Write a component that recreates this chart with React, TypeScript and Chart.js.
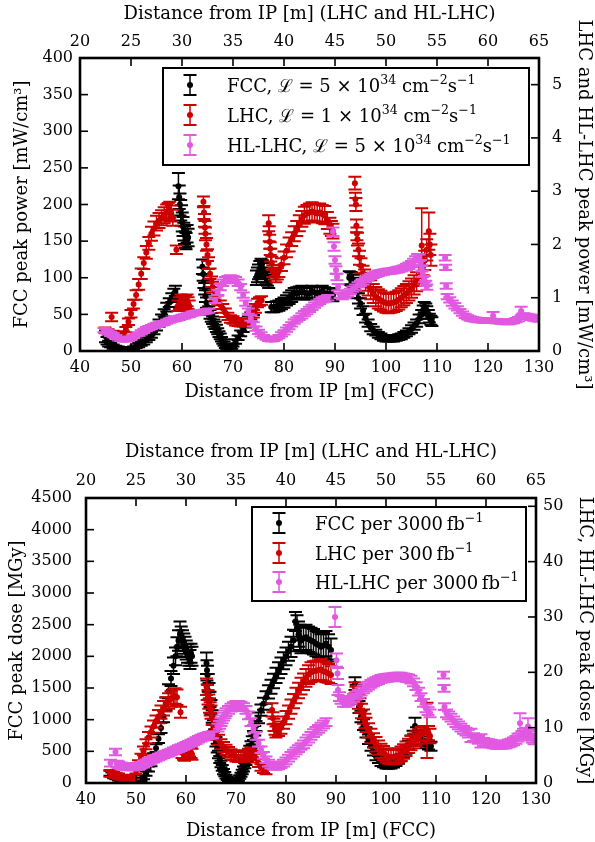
import { useEffect, useRef } from 'react';
import { Chart, registerables } from 'chart.js';

Chart.register(...registerables);

type Pt = [number, number, number]; // [distance, value, error]

const FONT = '"DejaVu Serif", serif';

// ---------- tick labels ----------
const FCC_DIST_TICKS = [40, 50, 60, 70, 80, 90, 100, 110, 120, 130];
const LHC_DIST_TICKS = [20, 25, 30, 35, 40, 45, 50, 55, 60, 65];
const POWER_TICKS = [0, 50, 100, 150, 200, 250, 300, 350, 400];
const LHC_POWER_TICKS = [0, 1, 2, 3, 4, 5];
const DOSE_TICKS = [0, 500, 1000, 1500, 2000, 2500, 3000, 3500, 4000, 4500];
const LHC_DOSE_TICKS = [0, 10, 20, 30, 40, 50];

// ---------- series colours (FCC, LHC, HL-LHC) ----------
const SERIES_COLORS = ['#000000', '#cc0000', '#e158e1'];

// ---------- top panel: peak power ----------
// FCC: [distance FCC m, mW/cm3, err]
const fccPower: Pt[] = [
  [45.0, 20, 8], [45.3, 14, 5], [45.6, 10, 4], [46, 8, 3], [46.5, 6, 3], [47, 5, 2], [47.5, 4, 2], [48, 3, 2],
  [48.5, 2, 2], [49, 2, 2], [49.5, 2, 2], [50, 3, 2], [50.5, 4, 2], [51, 6, 2], [51.5, 8, 3], [52, 10, 3],
  [52.5, 12, 3], [53, 15, 3], [53.5, 18, 3], [54, 22, 4], [54.5, 27, 4], [55, 32, 4], [55.5, 38, 5], [56, 45, 5],
  [56.5, 52, 5], [57, 60, 6], [57.5, 66, 6], [58, 73, 6], [58.4, 78, 7], [58.7, 82, 7],
  [59.3, 225, 18], [59.45, 210, 16], [59.6, 200, 15], [59.75, 192, 14], [59.9, 185, 14], [60.05, 176, 13],
  [60.2, 170, 13], [60.35, 163, 12], [60.5, 158, 12], [60.65, 152, 11], [60.8, 150, 11], [61.0, 160, 12], [61.2, 155, 12],
  [64.0, 115, 10], [64.15, 105, 9], [64.3, 95, 9], [64.45, 85, 8], [64.6, 75, 8], [64.8, 66, 7], [65, 60, 7],
  [65.25, 55, 6], [65.5, 50, 6], [65.75, 46, 6], [66, 42, 5], [66.25, 38, 5], [66.5, 35, 5], [66.75, 31, 5],
  [67, 27, 4], [67.25, 23, 4], [67.5, 20, 4], [67.75, 16, 3], [68, 13, 3], [68.25, 10, 3], [68.5, 7, 3],
  [68.75, 5, 2], [69, 3, 2], [69.25, 2, 2], [69.5, 3, 2], [69.75, 5, 2], [70, 8, 2], [70.5, 13, 3], [71, 18, 3],
  [71.5, 24, 4], [72, 30, 4], [72.5, 36, 4], [73, 42, 5], [73.5, 48, 5], [74, 55, 6],
  [74.6, 100, 10], [74.8, 104, 10], [75, 108, 10], [75.25, 112, 11], [75.5, 115, 11], [75.75, 113, 11],
  [76, 110, 10], [76.25, 104, 10], [76.5, 100, 9], [76.75, 98, 9], [77, 95, 9],
  [77.5, 60, 7], [78, 60, 7], [78.5, 61, 7], [79, 62, 7], [79.5, 64, 7], [80, 66, 7], [80.5, 69, 7], [81, 72, 8],
  [81.5, 75, 8], [82, 78, 8], [82.5, 79, 8], [83, 80, 8], [83.5, 81, 8], [84, 80, 8], [84.5, 78, 8], [85, 79, 8],
  [85.5, 81, 8], [86, 80, 8], [86.5, 79, 8], [87, 80, 8], [87.5, 81, 8], [88, 79, 8], [88.5, 78, 8], [89, 78, 8],
  [89.6, 76, 8],
  [92.8, 100, 9], [93.1, 99, 9], [93.3, 98, 9], [93.6, 95, 9], [93.8, 92, 8], [94, 87, 8], [94.3, 80, 8],
  [94.6, 72, 7], [95, 65, 7], [95.5, 55, 6], [96, 45, 6], [96.5, 38, 5], [97, 32, 5], [97.5, 28, 5], [98, 25, 4],
  [98.5, 22, 4], [99, 20, 4], [99.5, 18, 4], [100, 17, 4], [100.5, 17, 4], [101, 17, 4], [101.5, 17, 4],
  [102, 18, 4], [102.5, 19, 4], [103, 20, 4], [103.5, 22, 4], [104, 24, 4], [104.5, 27, 4], [105, 30, 5],
  [105.5, 34, 5], [106, 38, 5], [106.5, 44, 6], [107, 50, 6], [107.3, 56, 6], [107.5, 60, 7], [107.8, 58, 7],
  [108, 55, 6], [108.3, 50, 6], [108.5, 45, 6], [108.8, 42, 6], [109, 40, 6],
];

// LHC: [distance LHC m, mW/cm3, err]
const lhcPower: Pt[] = [
  [22.45, 0.39, 0.05], [22.75, 0.36, 0.05], [23.1, 0.64, 0.08], [23.25, 0.33, 0.05], [23.5, 0.3, 0.05],
  [23.75, 0.28, 0.05], [24, 0.28, 0.05], [24.25, 0.32, 0.05], [24.5, 0.4, 0.05], [24.75, 0.55, 0.06],
  [25, 0.7, 0.07], [25.25, 0.88, 0.08], [25.5, 1.05, 0.09], [25.75, 1.25, 0.1], [26, 1.45, 0.1],
  [26.25, 1.65, 0.11], [26.5, 1.85, 0.12], [26.75, 2.02, 0.12], [27, 2.2, 0.13], [27.25, 2.3, 0.13],
  [27.5, 2.4, 0.14], [27.75, 2.45, 0.14], [28, 2.5, 0.14], [28.25, 2.55, 0.15], [28.5, 2.6, 0.15],
  [28.65, 2.63, 0.15], [28.8, 2.65, 0.15], [28.95, 2.58, 0.15], [29.1, 2.5, 0.15], [29.45, 1.9, 0.08],
  [29.6, 0.85, 0.1], [29.75, 0.9, 0.11], [29.9, 0.95, 0.11], [30.05, 0.92, 0.11], [30.2, 0.9, 0.11],
  [30.35, 0.93, 0.11], [30.5, 0.95, 0.11], [30.6, 0.9, 0.11], [30.7, 0.85, 0.1],
  [32.1, 2.8, 0.1], [32.15, 2.6, 0.12], [32.2, 2.45, 0.12], [32.25, 2.32, 0.12], [32.3, 2.2, 0.12],
  [32.4, 2.0, 0.12], [32.5, 1.8, 0.11], [32.6, 1.65, 0.11], [32.75, 1.45, 0.1], [32.9, 1.3, 0.1],
  [33, 1.2, 0.1], [33.25, 1.05, 0.1], [33.5, 0.95, 0.09], [33.75, 0.87, 0.08], [34, 0.8, 0.08],
  [34.25, 0.72, 0.08], [34.5, 0.65, 0.07], [34.75, 0.6, 0.07], [35, 0.58, 0.07], [35.25, 0.55, 0.07],
  [35.5, 0.53, 0.06], [35.75, 0.52, 0.06], [36, 0.52, 0.06], [36.25, 0.53, 0.06], [36.5, 0.55, 0.06],
  [36.75, 0.62, 0.07], [37, 0.7, 0.07], [37.2, 0.8, 0.08], [37.4, 0.9, 0.08], [37.6, 0.93, 0.08], [37.8, 0.95, 0.08],
  [38.5, 2.4, 0.15], [38.55, 2.2, 0.14], [38.6, 2.05, 0.13], [38.65, 1.92, 0.12], [38.7, 1.8, 0.12],
  [38.8, 1.65, 0.12], [38.9, 1.5, 0.11], [39.05, 1.45, 0.11], [39.2, 1.4, 0.11], [39.35, 1.45, 0.11],
  [39.5, 1.5, 0.11], [39.75, 1.62, 0.12], [40, 1.75, 0.12], [40.25, 1.88, 0.12], [40.5, 2.0, 0.13],
  [40.75, 2.1, 0.13], [41, 2.2, 0.14], [41.25, 2.3, 0.14], [41.5, 2.4, 0.15], [41.75, 2.48, 0.15],
  [42, 2.55, 0.16], [42.25, 2.58, 0.16], [42.5, 2.6, 0.17], [42.75, 2.62, 0.17], [43, 2.6, 0.17],
  [43.25, 2.58, 0.17], [43.5, 2.6, 0.17], [43.75, 2.57, 0.17], [44, 2.55, 0.17], [44.25, 2.45, 0.16],
  [44.5, 2.35, 0.15], [44.65, 2.3, 0.14], [44.8, 2.25, 0.14],
  [46.95, 3.15, 0.12], [47.0, 2.85, 0.12], [47.05, 2.75, 0.12], [47.1, 2.35, 0.12], [47.15, 2.2, 0.12],
  [47.2, 2.1, 0.12], [47.3, 1.9, 0.12], [47.4, 1.75, 0.13], [47.55, 1.6, 0.14], [47.75, 1.45, 0.15],
  [47.9, 1.37, 0.16], [48, 1.3, 0.17], [48.25, 1.22, 0.18], [48.5, 1.15, 0.18], [48.75, 1.08, 0.18], [49, 1.02, 0.18],
  [49.25, 0.98, 0.18], [49.5, 0.95, 0.18], [49.75, 0.92, 0.18], [50, 0.9, 0.18], [50.25, 0.89, 0.18], [50.5, 0.9, 0.18],
  [50.75, 0.91, 0.18], [51, 0.93, 0.18], [51.25, 0.96, 0.18], [51.5, 1.0, 0.18], [51.75, 1.04, 0.18], [52, 1.08, 0.18],
  [52.25, 1.13, 0.18], [52.5, 1.18, 0.18], [52.75, 1.24, 0.18], [53, 1.3, 0.18], [53.25, 1.4, 0.18],
  [53.5, 1.98, 0.7], [53.65, 1.6, 0.18], [53.8, 1.7, 0.18], [54.0, 1.9, 0.2], [54.2, 2.25, 0.35],
  [54.3, 2.0, 0.2], [54.4, 1.8, 0.2],
];

// HL-LHC: [distance LHC m, mW/cm3, err]
const hlPower: Pt[] = [
  [22.35, 0.39, 0.04], [22.55, 0.37, 0.04], [22.75, 0.35, 0.04], [23, 0.32, 0.04], [23.25, 0.3, 0.04],
  [23.5, 0.27, 0.03], [23.75, 0.24, 0.03], [24, 0.22, 0.03], [24.25, 0.21, 0.03], [24.5, 0.21, 0.03],
  [24.75, 0.22, 0.03], [25, 0.24, 0.03], [25.25, 0.27, 0.03], [25.5, 0.3, 0.03], [25.75, 0.32, 0.03],
  [26, 0.35, 0.04], [26.25, 0.38, 0.04], [26.5, 0.41, 0.04], [26.75, 0.43, 0.04], [27, 0.45, 0.04],
  [27.25, 0.47, 0.04], [27.5, 0.49, 0.04], [27.75, 0.5, 0.04], [28, 0.52, 0.04], [28.25, 0.53, 0.04],
  [28.5, 0.55, 0.04], [28.75, 0.57, 0.04], [29, 0.59, 0.04], [29.25, 0.6, 0.04], [29.5, 0.61, 0.04],
  [29.75, 0.62, 0.04], [30, 0.64, 0.04], [30.25, 0.65, 0.04], [30.5, 0.67, 0.04], [30.75, 0.68, 0.04],
  [31, 0.7, 0.04], [31.25, 0.71, 0.04], [31.5, 0.72, 0.04], [31.75, 0.72, 0.04], [32, 0.73, 0.04],
  [32.25, 0.74, 0.04], [32.45, 0.75, 0.04], [32.65, 0.76, 0.04],
  [33.25, 0.95, 0.05], [33.5, 1.1, 0.05], [33.75, 1.2, 0.06], [34, 1.28, 0.06], [34.25, 1.33, 0.06],
  [34.5, 1.35, 0.06], [34.75, 1.36, 0.06], [35, 1.35, 0.06], [35.25, 1.33, 0.06], [35.5, 1.28, 0.06],
  [35.75, 1.2, 0.06], [36, 1.05, 0.05], [36.25, 0.9, 0.05], [36.5, 0.75, 0.05], [36.75, 0.62, 0.05],
  [37, 0.5, 0.04], [37.25, 0.42, 0.04], [37.5, 0.36, 0.04], [37.75, 0.31, 0.04], [38, 0.27, 0.03],
  [38.25, 0.24, 0.03], [38.5, 0.22, 0.03], [38.75, 0.21, 0.03], [39, 0.22, 0.03], [39.25, 0.24, 0.03],
  [39.5, 0.27, 0.03], [39.75, 0.31, 0.04], [40, 0.35, 0.04], [40.25, 0.4, 0.04], [40.5, 0.45, 0.04],
  [40.75, 0.5, 0.04], [41, 0.55, 0.04], [41.25, 0.59, 0.04], [41.5, 0.62, 0.04], [41.75, 0.66, 0.05],
  [42, 0.7, 0.05], [42.25, 0.74, 0.05], [42.5, 0.78, 0.05], [42.75, 0.82, 0.05], [43, 0.86, 0.05],
  [43.25, 0.9, 0.05], [43.5, 0.93, 0.05], [43.75, 0.96, 0.05], [44, 0.98, 0.05], [44.3, 1.0, 0.05],
  [44.8, 2.24, 0.08], [44.9, 1.96, 0.08], [45, 1.71, 0.07], [45.1, 1.52, 0.07], [45.2, 1.39, 0.06],
  [45.3, 1.2, 0.06], [45.5, 1.05, 0.05], [45.75, 1.02, 0.05], [46, 1.05, 0.05], [46.25, 1.08, 0.05],
  [46.5, 1.12, 0.05], [46.75, 1.16, 0.05], [47, 1.2, 0.05], [47.25, 1.24, 0.05], [47.5, 1.27, 0.05],
  [47.75, 1.3, 0.05], [48, 1.34, 0.05], [48.25, 1.37, 0.05], [48.5, 1.4, 0.05], [48.75, 1.42, 0.05],
  [49, 1.44, 0.05], [49.25, 1.46, 0.05], [49.5, 1.47, 0.05], [49.75, 1.48, 0.05], [50, 1.49, 0.05],
  [50.25, 1.5, 0.05], [50.5, 1.5, 0.05], [50.75, 1.51, 0.05], [51, 1.52, 0.05], [51.25, 1.53, 0.05],
  [51.5, 1.54, 0.05], [51.75, 1.56, 0.05], [52, 1.58, 0.06], [52.25, 1.6, 0.06], [52.5, 1.63, 0.06],
  [52.7, 1.67, 0.06], [52.9, 1.72, 0.06], [53.1, 1.76, 0.06], [53.25, 1.75, 0.06], [53.4, 1.65, 0.06],
  [53.5, 1.55, 0.06], [53.6, 1.45, 0.06], [53.75, 1.35, 0.06], [53.9, 1.27, 0.05], [54, 1.2, 0.05],
  [55.8, 1.75, 0.05], [55.85, 1.57, 0.05], [55.9, 1.22, 0.05], [56, 1.02, 0.05], [56.25, 0.96, 0.05],
  [56.5, 0.9, 0.05], [56.75, 0.85, 0.05], [57, 0.8, 0.04], [57.25, 0.75, 0.04], [57.5, 0.7, 0.04],
  [57.75, 0.66, 0.04], [58, 0.63, 0.04], [58.25, 0.61, 0.04], [58.5, 0.6, 0.04], [58.75, 0.59, 0.04],
  [59, 0.58, 0.04], [59.25, 0.58, 0.04], [59.5, 0.57, 0.04], [59.75, 0.57, 0.04], [60, 0.57, 0.04],
  [60.25, 0.57, 0.04], [60.5, 0.66, 0.07], [60.75, 0.56, 0.04], [61, 0.56, 0.04], [61.25, 0.55, 0.04],
  [61.5, 0.55, 0.04], [61.75, 0.54, 0.04], [62, 0.54, 0.04], [62.25, 0.55, 0.04], [62.5, 0.56, 0.04],
  [62.75, 0.58, 0.04], [63, 0.6, 0.04], [63.25, 0.75, 0.08], [63.4, 0.65, 0.05], [63.5, 0.66, 0.05],
  [63.75, 0.65, 0.05], [64, 0.64, 0.05], [64.25, 0.63, 0.05], [64.5, 0.62, 0.05], [64.75, 0.61, 0.05],
  [65, 0.6, 0.05],
];

// ---------- bottom panel: peak dose ----------
// FCC: [distance FCC m, MGy, err]
const fccDose: Pt[] = [
  [44.8, 153, 40], [45.2, 130, 35], [45.5, 110, 35], [46, 90, 30], [46.5, 70, 30], [47, 55, 25], [47.5, 40, 25],
  [48, 30, 20], [48.5, 20, 20], [49, 15, 15], [49.5, 15, 15], [50, 20, 15], [50.5, 30, 20], [51, 55, 25],
  [51.5, 90, 30], [52, 150, 35], [52.5, 220, 40], [53, 310, 45], [53.5, 420, 50], [54, 550, 60], [54.5, 700, 70],
  [55, 870, 80], [55.5, 1050, 90], [56, 1250, 100], [56.5, 1450, 110], [57, 1650, 120], [57.5, 1850, 130],
  [57.9, 2000, 140], [58.2, 2150, 150], [58.5, 2250, 160], [58.8, 2350, 200], [59.05, 2300, 170],
  [59.3, 2250, 160], [59.55, 2200, 160], [59.8, 2150, 160], [60.05, 2100, 150], [60.3, 2050, 150],
  [60.55, 2000, 150], [60.8, 1950, 150], [61.0, 2050, 150], [61.2, 2000, 150],
  [64.1, 1890, 170], [64.2, 1780, 160], [64.3, 1700, 150], [64.45, 1580, 140], [64.6, 1450, 130],
  [64.8, 1320, 120], [65, 1200, 110], [65.25, 1050, 100], [65.5, 900, 90], [65.75, 770, 80], [66, 650, 75],
  [66.25, 550, 70], [66.5, 450, 60], [66.75, 370, 55], [67, 300, 50], [67.25, 240, 45], [67.5, 180, 40],
  [67.75, 140, 35], [68, 100, 30], [68.25, 75, 28], [68.5, 50, 25], [68.75, 35, 22], [69, 20, 20],
  [69.25, 12, 15], [69.5, 10, 15], [69.75, 14, 15], [70, 20, 20], [70.25, 38, 22], [70.5, 60, 25],
  [70.75, 95, 28], [71, 130, 30], [71.25, 175, 35], [71.5, 220, 40], [71.75, 275, 42], [72, 330, 45],
  [72.25, 395, 50], [72.5, 460, 55], [72.75, 530, 58], [73, 600, 60], [73.25, 675, 65], [73.5, 750, 70],
  [73.75, 825, 75], [74, 900, 80], [74.5, 1030, 85], [75, 1150, 90], [75.5, 1250, 95], [76, 1350, 100],
  [76.5, 1440, 105], [77, 1520, 110], [77.5, 1610, 115], [78, 1700, 120], [78.5, 1780, 125], [79, 1850, 130],
  [79.5, 1930, 135], [80, 2000, 140], [80.5, 2080, 150], [81, 2150, 160], [81.5, 2250, 170], [81.9, 2550, 150],
  [82.2, 2450, 200], [82.5, 2350, 200], [82.75, 2300, 200], [83, 2250, 200], [83.5, 2280, 200],
  [84, 2300, 200], [84.5, 2270, 200], [85, 2250, 200], [85.5, 2230, 200], [86, 2200, 200], [86.5, 2180, 200],
  [87, 2150, 200], [87.5, 2170, 200], [88, 2200, 200], [88.5, 2150, 200], [89, 2100, 180],
  [93.8, 1570, 100], [94.05, 1450, 100], [94.3, 1350, 100], [94.6, 1200, 95], [95, 1050, 90], [95.5, 920, 85],
  [96, 800, 80], [96.5, 690, 75], [97, 580, 70], [97.5, 500, 65], [98, 420, 60], [98.5, 370, 55], [99, 320, 50],
  [99.5, 300, 50], [100, 280, 50], [100.5, 275, 50], [101, 280, 50], [101.5, 295, 50], [102, 320, 50],
  [102.5, 355, 52], [103, 400, 55], [103.5, 455, 58], [104, 520, 60], [104.5, 600, 65], [105, 680, 70],
  [105.4, 750, 75], [105.8, 900, 130], [106.1, 800, 80], [106.5, 750, 80], [107, 700, 80], [107.5, 660, 75],
  [108, 620, 70], [108.5, 600, 70], [109, 580, 70],
];

// LHC: [distance LHC m, MGy, err]
const lhcDose: Pt[] = [
  [22.4, 1.75, 0.6], [22.6, 1.6, 0.5], [22.75, 1.5, 0.5], [23, 1.35, 0.5], [23.25, 1.2, 0.5], [23.5, 1.05, 0.45],
  [23.75, 0.9, 0.4], [24, 0.8, 0.4], [24.25, 0.8, 0.4], [24.5, 0.9, 0.4], [24.75, 1.1, 0.4], [25, 2.2, 0.5],
  [25.25, 3.5, 0.6], [25.5, 4.6, 0.7], [25.75, 5.8, 0.8], [26, 7.0, 0.9], [26.25, 8.2, 1.0], [26.5, 9.2, 1.0],
  [26.75, 10.2, 1.1], [27, 11.1, 1.1], [27.25, 12.0, 1.2], [27.5, 12.8, 1.2], [27.75, 13.5, 1.3],
  [28, 14.2, 1.3], [28.25, 14.8, 1.4], [28.5, 15.2, 1.4], [28.75, 15.6, 1.4], [28.9, 15.7, 1.4],
  [29.1, 15.5, 1.4], [29.45, 12.8, 1.0], [29.6, 5.5, 1.0], [29.75, 5.2, 1.0], [29.85, 5.0, 1.0], [30, 5.3, 1.0],
  [30.1, 5.5, 1.0], [30.25, 5.7, 1.0], [30.35, 5.8, 1.0], [30.5, 5.5, 1.0], [30.6, 5.2, 1.0],
  [32.05, 17.4, 1.5], [32.12, 16.4, 1.4], [32.2, 15.5, 1.3], [32.28, 14.7, 1.3], [32.35, 14.0, 1.3],
  [32.42, 13.4, 1.2], [32.5, 12.8, 1.2], [32.62, 11.6, 1.1], [32.75, 10.5, 1.1], [32.87, 9.6, 1.0],
  [33, 8.8, 1.0], [33.25, 7.8, 0.9], [33.5, 7.0, 0.9], [33.75, 6.5, 0.9], [34, 6.0, 0.9], [34.25, 5.6, 0.9],
  [34.5, 5.2, 0.9], [34.75, 5.0, 0.9], [35, 4.8, 0.9], [35.25, 4.7, 0.9], [35.5, 4.7, 0.9], [35.75, 4.8, 0.9],
  [36, 5.0, 0.9], [36.25, 5.3, 0.9], [36.5, 5.5, 0.9], [36.75, 5.0, 0.8], [37, 4.5, 0.8], [37.25, 3.6, 0.7],
  [37.5, 2.8, 0.6], [37.75, 2.4, 0.6], [38, 2.2, 0.6],
  [38.6, 13.2, 1.2], [38.7, 11.7, 1.1], [38.8, 10.5, 1.1], [38.9, 9.7, 1.0], [39, 9.2, 1.0], [39.25, 9.5, 1.0],
  [39.5, 10.0, 1.1], [39.75, 10.9, 1.1], [40, 11.8, 1.2], [40.25, 12.8, 1.2], [40.5, 13.8, 1.3],
  [40.75, 14.8, 1.3], [41, 15.8, 1.4], [41.25, 16.7, 1.4], [41.5, 17.5, 1.5], [41.75, 18.3, 1.5],
  [42, 19.0, 1.6], [42.25, 19.6, 1.7], [42.5, 20.0, 1.8], [42.75, 20.2, 1.8], [43, 20.3, 1.8],
  [43.25, 20.4, 1.8], [43.5, 20.5, 1.9], [43.75, 20.2, 1.8], [44, 20.0, 1.8], [44.25, 19.8, 1.7], [44.5, 19.5, 1.6],
  [46.9, 17.2, 1.0], [47, 16.3, 1.1], [47.1, 15.5, 1.2], [47.25, 14.7, 1.3], [47.4, 14.0, 1.3], [47.55, 13.0, 1.3],
  [47.75, 12.0, 1.3], [47.9, 11.2, 1.3], [48, 10.5, 1.3], [48.25, 9.5, 1.3], [48.5, 8.5, 1.3], [48.75, 7.7, 1.3],
  [49, 7.0, 1.3], [49.25, 6.4, 1.3], [49.5, 5.8, 1.3], [49.75, 5.4, 1.3], [50, 5.0, 1.3], [50.25, 4.8, 1.3],
  [50.5, 4.7, 1.3], [50.75, 4.7, 1.3], [51, 4.8, 1.3], [51.25, 5.0, 1.3], [51.5, 5.3, 1.3], [51.75, 5.7, 1.3],
  [52, 6.2, 1.3], [52.25, 6.7, 1.3], [52.5, 7.2, 1.3], [52.75, 7.6, 1.3], [53, 8.0, 1.3], [53.25, 8.4, 1.3],
  [53.5, 8.8, 1.3], [53.75, 9.0, 1.3], [54.1, 9.5, 5.0], [54.25, 9.0, 1.3], [54.4, 8.5, 1.3],
];

// HL-LHC: [distance LHC m, MGy, err]
const hlDose: Pt[] = [
  [22.45, 3.6, 0.6], [22.95, 5.6, 0.6], [23.1, 3.4, 0.6], [23.25, 3.3, 0.6], [23.5, 3.1, 0.6], [23.75, 3.0, 0.6],
  [24, 2.95, 0.6], [24.25, 2.9, 0.6], [24.5, 2.9, 0.6], [24.75, 2.9, 0.6], [25, 2.95, 0.6], [25.25, 3.0, 0.6],
  [25.5, 3.2, 0.6], [25.75, 3.4, 0.6], [26, 3.65, 0.6], [26.25, 3.9, 0.6], [26.5, 4.1, 0.6], [26.75, 4.3, 0.6],
  [27, 4.5, 0.6], [27.25, 4.7, 0.6], [27.5, 4.9, 0.6], [27.75, 5.1, 0.6], [28, 5.25, 0.6], [28.25, 5.4, 0.6],
  [28.5, 5.6, 0.6], [28.75, 5.8, 0.6], [29, 6.0, 0.6], [29.25, 6.2, 0.6], [29.5, 6.4, 0.6], [29.75, 6.6, 0.6],
  [30, 6.8, 0.6], [30.25, 7.0, 0.6], [30.5, 7.2, 0.6], [30.75, 7.4, 0.6], [31, 7.65, 0.6], [31.25, 7.9, 0.6],
  [31.5, 8.1, 0.6], [31.75, 8.3, 0.6], [32, 8.45, 0.6], [32.25, 8.6, 0.6], [32.45, 8.65, 0.6], [32.65, 8.7, 0.6],
  [33.2, 10.0, 0.7], [33.35, 10.5, 0.7], [33.5, 11.0, 0.7], [33.6, 11.5, 0.7], [33.75, 12.0, 0.7],
  [33.9, 12.4, 0.7], [34, 12.8, 0.7], [34.25, 13.2, 0.7], [34.5, 13.6, 0.7], [34.75, 13.9, 0.7], [35, 14.1, 0.7],
  [35.25, 14.1, 0.7], [35.5, 14.0, 0.7], [35.75, 13.7, 0.7], [36, 13.2, 0.7], [36.25, 12.2, 0.7],
  [36.5, 11.0, 0.7], [36.75, 9.8, 0.7], [37, 8.5, 0.7], [37.25, 7.2, 0.6], [37.5, 6.0, 0.6], [37.75, 5.0, 0.6],
  [38, 4.2, 0.6], [38.25, 3.6, 0.6], [38.5, 3.2, 0.6], [38.75, 3.05, 0.6], [39, 3.0, 0.6], [39.25, 3.1, 0.6],
  [39.5, 3.3, 0.6], [39.75, 3.6, 0.6], [40, 4.0, 0.6], [40.25, 4.5, 0.6], [40.5, 5.0, 0.6], [40.75, 5.4, 0.6],
  [41, 5.8, 0.6], [41.25, 6.2, 0.6], [41.5, 6.6, 0.6], [41.75, 7.0, 0.7], [42, 7.5, 0.7], [42.25, 8.0, 0.7],
  [42.5, 8.5, 0.7], [42.75, 9.0, 0.7], [43, 9.4, 0.7], [43.25, 9.8, 0.7], [43.5, 10.2, 0.7], [43.75, 10.6, 0.7],
  [44, 11.0, 0.7],
  [44.9, 30.0, 1.8], [45.05, 22.2, 1.2], [45.15, 19.8, 1.0], [45.2, 16.8, 0.9], [45.35, 15.6, 0.8],
  [45.5, 15.0, 0.7], [45.75, 14.5, 0.7], [46, 14.5, 0.7], [46.25, 14.7, 0.7], [46.5, 15.0, 0.7],
  [46.75, 15.4, 0.7], [47, 15.8, 0.7], [47.25, 16.1, 0.7], [47.5, 16.5, 0.7], [47.75, 16.9, 0.7],
  [48, 17.3, 0.7], [48.25, 17.6, 0.7], [48.5, 17.9, 0.7], [48.75, 18.2, 0.7], [49, 18.4, 0.7],
  [49.25, 18.6, 0.7], [49.5, 18.8, 0.7], [49.75, 18.9, 0.7], [50, 19.0, 0.7], [50.25, 19.05, 0.7],
  [50.5, 19.1, 0.7], [50.75, 19.15, 0.7], [51, 19.2, 0.7], [51.25, 19.2, 0.7], [51.5, 19.2, 0.7],
  [51.75, 19.1, 0.7], [52, 19.0, 0.7], [52.25, 18.9, 0.7], [52.5, 18.7, 0.7], [52.75, 18.2, 0.7],
  [53, 17.5, 0.7], [53.25, 16.5, 0.7], [53.5, 15.5, 0.7], [53.75, 14.5, 0.7], [54, 13.5, 0.7],
  [54.2, 13.0, 0.7], [54.4, 12.6, 0.7],
  [55.75, 19.5, 0.6], [55.8, 17.1, 0.6], [55.85, 13.8, 0.6], [56.05, 12.6, 0.7], [56.25, 12.2, 0.7],
  [56.5, 11.8, 0.7], [56.75, 11.3, 0.7], [57, 10.8, 0.7], [57.25, 10.4, 0.7], [57.5, 10.0, 0.7],
  [57.75, 9.6, 0.7], [58, 9.3, 0.7], [58.25, 8.9, 0.7], [58.5, 8.6, 1.2], [58.75, 8.3, 0.7], [59, 8.0, 0.7],
  [59.25, 7.8, 0.7], [59.5, 7.6, 1.2], [59.75, 7.45, 0.7], [60, 7.3, 0.7], [60.25, 7.2, 0.7], [60.5, 7.1, 0.7],
  [60.75, 7.0, 0.7], [61, 6.9, 0.7], [61.25, 6.9, 0.7], [61.5, 6.9, 0.7], [61.75, 6.95, 0.7], [62, 7.0, 0.7],
  [62.25, 7.15, 0.7], [62.5, 7.3, 0.7], [62.75, 7.5, 0.7], [63, 7.8, 0.7], [63.2, 8.2, 0.7], [63.4, 10.8, 1.8],
  [63.6, 8.6, 0.8], [63.75, 9.0, 0.8], [64, 9.2, 0.8], [64.2, 10.2, 1.5], [64.35, 8.8, 0.8], [64.5, 8.5, 0.8],
  [64.65, 8.1, 0.8], [64.8, 7.8, 0.8],
];

type Part = { t: string; sup?: boolean };
type LegendSpec = {
  box: [number, number, number, number];
  iconX: number;
  textX: number;
  rows: number[];
  entries: Part[][];
};

const topLegend: Part[][] = [
  [{ t: 'FCC, ℒ = 5 × 10' }, { t: '34', sup: true }, { t: ' cm' }, { t: '−2', sup: true }, { t: 's' }, { t: '−1', sup: true }],
  [{ t: 'LHC, ℒ = 1 × 10' }, { t: '34', sup: true }, { t: ' cm' }, { t: '−2', sup: true }, { t: 's' }, { t: '−1', sup: true }],
  [{ t: 'HL-LHC, ℒ = 5 × 10' }, { t: '34', sup: true }, { t: ' cm' }, { t: '−2', sup: true }, { t: 's' }, { t: '−1', sup: true }],
];
const bottomLegend: Part[][] = [
  [{ t: 'FCC per 3000\u2009fb' }, { t: '−1', sup: true }],
  [{ t: 'LHC per 300\u2009fb' }, { t: '−1', sup: true }],
  [{ t: 'HL-LHC per 3000\u2009fb' }, { t: '−1', sup: true }],
];

function drawRich(ctx: CanvasRenderingContext2D, x: number, y: number, parts: Part[], size: number) {
  let cx = x;
  ctx.textBaseline = 'alphabetic';
  ctx.textAlign = 'left';
  for (const p of parts) {
    const fs = p.sup ? size * 0.7 : size;
    ctx.font = `${fs}px ${FONT}`;
    const dy = p.sup ? -size * 0.42 : 0;
    ctx.fillText(p.t, cx, y + dy);
    cx += ctx.measureText(p.t).width;
  }
}

const CAP = 6.5;

function makeDecor(legend: LegendSpec) {
  return {
    id: 'decor',
    beforeDatasetDraw(chart: any, args: any) {
      const meta = args.meta;
      const ds = chart.data.datasets[args.index];
      const ys = chart.scales[meta.yAxisID];
      const ctx: CanvasRenderingContext2D = chart.ctx;
      const a = chart.chartArea;
      ctx.save();
      ctx.beginPath();
      ctx.rect(a.left, a.top, a.right - a.left, a.bottom - a.top);
      ctx.clip();
      ctx.strokeStyle = ds.borderColor;
      ds.data.forEach((p: any, i: number) => {
        const el = meta.data[i];
        if (!el) return;
        const x = el.x;
        const yt = ys.getPixelForValue(p.y + p.err);
        const yb = ys.getPixelForValue(p.y - p.err);
        ctx.lineWidth = 1.5;
        ctx.beginPath();
        ctx.moveTo(x, yt);
        ctx.lineTo(x, yb);
        ctx.stroke();
        ctx.lineWidth = 2;
        ctx.beginPath();
        ctx.moveTo(x - CAP, yt);
        ctx.lineTo(x + CAP, yt);
        ctx.moveTo(x - CAP, yb);
        ctx.lineTo(x + CAP, yb);
        ctx.stroke();
      });
      ctx.restore();
    },
    afterDraw(chart: any) {
      const ctx: CanvasRenderingContext2D = chart.ctx;
      const a = chart.chartArea;
      ctx.save();
      ctx.strokeStyle = '#000';
      ctx.lineWidth = 1.6;
      const TL = 8;
      for (const id of Object.keys(chart.scales)) {
        const s = chart.scales[id];
        for (const t of s.ticks) {
          const px = s.getPixelForValue(t.value);
          ctx.beginPath();
          if (s.position === 'bottom') { ctx.moveTo(px, a.bottom); ctx.lineTo(px, a.bottom - TL); }
          else if (s.position === 'top') { ctx.moveTo(px, a.top); ctx.lineTo(px, a.top + TL); }
          else if (s.position === 'left') { ctx.moveTo(a.left, px); ctx.lineTo(a.left + TL, px); }
          else { ctx.moveTo(a.right, px); ctx.lineTo(a.right - TL, px); }
          ctx.stroke();
        }
      }
      ctx.lineWidth = 2.6;
      ctx.strokeRect(a.left, a.top, a.right - a.left, a.bottom - a.top);
      const [bx0, by0, bx1, by1] = legend.box;
      ctx.fillStyle = '#fff';
      ctx.fillRect(bx0, by0, bx1 - bx0, by1 - by0);
      ctx.lineWidth = 2;
      ctx.strokeRect(bx0, by0, bx1 - bx0, by1 - by0);
      legend.entries.forEach((parts, i) => {
        const y = legend.rows[i];
        const c = SERIES_COLORS[i];
        ctx.strokeStyle = c;
        ctx.fillStyle = c;
        ctx.lineWidth = 1.5;
        ctx.beginPath();
        ctx.moveTo(legend.iconX, y - 10);
        ctx.lineTo(legend.iconX, y + 10);
        ctx.stroke();
        ctx.lineWidth = 2;
        ctx.beginPath();
        ctx.moveTo(legend.iconX - CAP, y - 10);
        ctx.lineTo(legend.iconX + CAP, y - 10);
        ctx.moveTo(legend.iconX - CAP, y + 10);
        ctx.lineTo(legend.iconX + CAP, y + 10);
        ctx.stroke();
        ctx.beginPath();
        ctx.arc(legend.iconX, y, 3, 0, Math.PI * 2);
        ctx.fill();
        ctx.fillStyle = '#000';
        drawRich(ctx, legend.textX, y + 6.5, parts, 18);
      });
      ctx.restore();
    },
  };
}

type AxisSpec = {
  pos: 'top' | 'bottom' | 'left' | 'right';
  min: number;
  max: number;
  ticks: number[];
  title: string;
  tickPad: number;
  titlePad: number;
  size: number;
};

function axis(s: AxisSpec) {
  const horizontal = s.pos === 'top' || s.pos === 'bottom';
  return {
    type: 'linear',
    position: s.pos,
    min: s.min,
    max: s.max,
    grid: { display: false, drawTicks: false },
    border: { display: false },
    afterBuildTicks: (sc: any) => { sc.ticks = s.ticks.map((v) => ({ value: v })); },
    afterFit: (sc: any) => { if (horizontal) sc.height = s.size; else sc.width = s.size; },
    ticks: {
      color: '#000',
      font: { family: FONT, size: 16 },
      padding: s.tickPad,
      autoSkip: false,
      maxRotation: 0,
      minRotation: 0,
      callback: (v: any) => String(v),
    },
    title: {
      display: true,
      text: s.title,
      color: '#000',
      font: { family: FONT, size: 18 },
      padding: s.pos === 'bottom' ? { top: 0, bottom: s.titlePad } : { top: s.titlePad, bottom: 0 },
    },
  };
}

function dataset(label: string, pts: Pt[], color: string, xID: string, yID: string, order: number) {
  return {
    label,
    data: pts.map(([x, y, err]) => ({ x, y, err })),
    xAxisID: xID,
    yAxisID: yID,
    borderColor: color,
    backgroundColor: color,
    pointBackgroundColor: color,
    pointBorderWidth: 0,
    pointRadius: 3,
    showLine: false,
    order,
  };
}

type PanelSpec = {
  datasets: any[];
  scales: Record<string, any>;
  legend: LegendSpec;
};

const W = 595;
const H = 421;

const topPanel: PanelSpec = {
  datasets: [
    dataset('FCC', fccPower, SERIES_COLORS[0], 'x', 'y', 2),
    dataset('LHC', lhcPower, SERIES_COLORS[1], 'x2', 'y2', 1),
    dataset('HL-LHC', hlPower, SERIES_COLORS[2], 'x2', 'y2', 0),
  ],
  scales: {
    x: axis({ pos: 'bottom', min: 40, max: 130, ticks: FCC_DIST_TICKS, title: 'Distance from IP [m] (FCC)', tickPad: 7, titlePad: 18, size: H - 351 }),
    x2: axis({ pos: 'top', min: 20, max: 65, ticks: LHC_DIST_TICKS, title: 'Distance from IP [m] (LHC and HL-LHC)', tickPad: 7, titlePad: 4, size: 58 }),
    y: axis({ pos: 'left', min: 0, max: 400, ticks: POWER_TICKS, title: 'FCC peak power [mW/cm³]', tickPad: 7, titlePad: 12, size: 80 }),
    y2: axis({ pos: 'right', min: 0, max: 5.5, ticks: LHC_POWER_TICKS, title: 'LHC and HL-LHC peak power [mW/cm³]', tickPad: 13, titlePad: 1, size: W - 539 }),
  },
  legend: { box: [163, 68, 529, 165], iconX: 190, textX: 227, rows: [85, 115, 145], entries: topLegend },
};

const bottomPanel: PanelSpec = {
  datasets: [
    dataset('FCC', fccDose, SERIES_COLORS[0], 'x', 'y', 2),
    dataset('LHC', lhcDose, SERIES_COLORS[1], 'x2', 'y2', 1),
    dataset('HL-LHC', hlDose, SERIES_COLORS[2], 'x2', 'y2', 0),
  ],
  scales: {
    x: axis({ pos: 'bottom', min: 40, max: 130, ticks: FCC_DIST_TICKS, title: 'Distance from IP [m] (FCC)', tickPad: 7, titlePad: 0, size: H - 362 }),
    x2: axis({ pos: 'top', min: 20, max: 65, ticks: LHC_DIST_TICKS, title: 'Distance from IP [m] (LHC and HL-LHC)', tickPad: 8, titlePad: 21, size: 77 }),
    y: axis({ pos: 'left', min: 0, max: 4500, ticks: DOSE_TICKS, title: 'FCC peak dose [MGy]', tickPad: 14, titlePad: 7, size: 86 }),
    y2: axis({ pos: 'right', min: 0, max: 51.5, ticks: LHC_DOSE_TICKS, title: 'LHC, HL-LHC peak dose [MGy]', tickPad: 7, titlePad: 0, size: W - 536 }),
  },
  legend: { box: [252, 86, 526, 180], iconX: 279, textX: 315, rows: [102, 132, 161], entries: bottomLegend },
};

function Panel({ spec }: { spec: PanelSpec }) {
  const ref = useRef<HTMLCanvasElement>(null);
  useEffect(() => {
    const chart = new Chart(ref.current as HTMLCanvasElement, {
      type: 'scatter',
      data: { datasets: spec.datasets },
      options: {
        responsive: false,
        maintainAspectRatio: false,
        devicePixelRatio: 1,
        animation: false,
        events: [],
        layout: { padding: 0 },
        plugins: { legend: { display: false }, tooltip: { enabled: false } },
        scales: spec.scales,
      } as any,
      plugins: [makeDecor(spec.legend)],
    } as any);
    return () => chart.destroy();
  }, [spec]);
  return <canvas ref={ref} width={W} height={H} style={{ display: 'block', width: W, height: H }} />;
}

export default function App() {
  return (
    <div style={{ position: 'absolute', left: 0, top: 0, width: 595, height: 842, background: '#fff' }}>
      <Panel spec={topPanel} />
      <Panel spec={bottomPanel} />
    </div>
  );
}
